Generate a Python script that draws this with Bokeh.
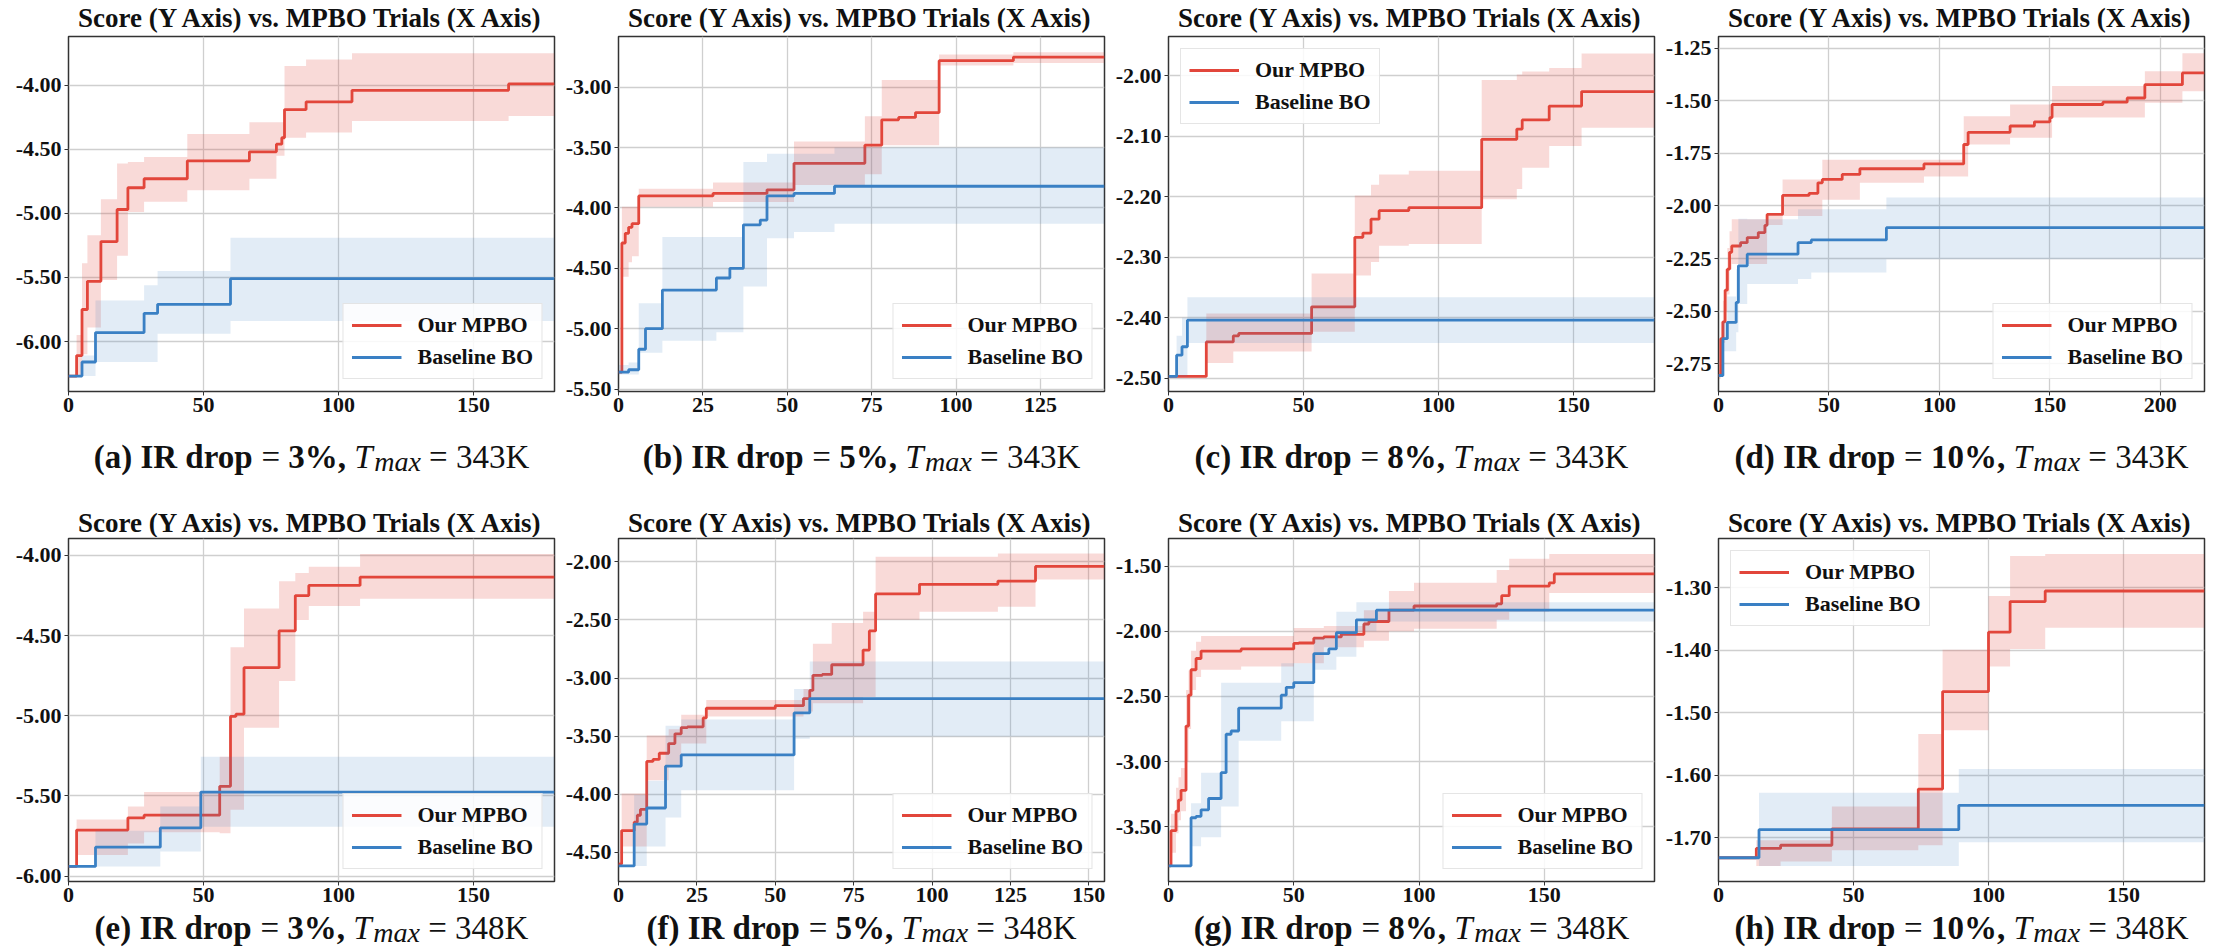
from bokeh.plotting import figure
from bokeh.models import Range1d, FixedTicker, NumeralTickFormatter, Legend, LegendItem
from bokeh.core.properties import value
from bokeh.layouts import column, row
from bokeh.embed import file_html
from bokeh.resources import INLINE

# ---------------- data ----------------
letters = ["a", "b", "c", "d", "e", "f", "g", "h"]
ir_drops = ["3%", "5%", "8%", "10%", "3%", "5%", "8%", "10%"]
t_max = ["343K", "343K", "343K", "343K", "348K", "348K", "348K", "348K"]
x_max = [180, 144, 180, 220, 180, 155, 194, 180]
y_lims = [(-6.39, -3.62), (-5.52, -2.58), (-2.522, -1.935), (-2.881, -1.195),
          (-6.034, -3.894), (-4.75, -1.80), (-3.92, -1.288), (-1.77, -1.221)]
y_ticks = [[-6.0, -5.5, -5.0, -4.5, -4.0],
           [-5.5, -5.0, -4.5, -4.0, -3.5, -3.0],
           [-2.5, -2.4, -2.3, -2.2, -2.1, -2.0],
           [-2.75, -2.5, -2.25, -2.0, -1.75, -1.5, -1.25],
           [-6.0, -5.5, -5.0, -4.5, -4.0],
           [-4.5, -4.0, -3.5, -3.0, -2.5, -2.0],
           [-3.5, -3.0, -2.5, -2.0, -1.5],
           [-1.7, -1.6, -1.5, -1.4, -1.3]]
x_ticks = [[0, 50, 100, 150], [0, 25, 50, 75, 100, 125], [0, 50, 100, 150],
           [0, 50, 100, 150, 200], [0, 50, 100, 150], [0, 25, 50, 75, 100, 125, 150],
           [0, 50, 100, 150], [0, 50, 100, 150]]
legend_loc = ["bottom_right", "bottom_right", "top_left", "bottom_right",
              "bottom_right", "bottom_right", "bottom_right", "top_left"]

# (a)
a_red_x = [0, 3, 5, 7, 12, 18, 22, 28, 44, 67, 77, 79, 80, 88, 105, 163, 180]
a_red = [-6.27, -6.11, -5.75, -5.53, -5.22, -4.97, -4.80, -4.73, -4.59, -4.52, -4.46, -4.41, -4.19, -4.13, -4.04, -3.99, -3.99]
a_red_lo = [-6.27, -6.27, -6.10, -5.89, -5.52, -5.33, -4.99, -4.91, -4.82, -4.73, -4.55, -4.55, -4.41, -4.37, -4.28, -4.24, -4.24]
a_red_hi = [-6.27, -5.95, -5.39, -5.17, -4.89, -4.61, -4.60, -4.56, -4.38, -4.29, -4.29, -4.29, -3.85, -3.80, -3.75, -3.75, -3.75]
a_blue_x = [0, 5, 10, 28, 33, 60, 180]
a_blue = [-6.27, -6.16, -5.93, -5.78, -5.71, -5.51, -5.51]
a_blue_lo = [-6.27, -6.27, -6.16, -6.16, -5.94, -5.84, -5.84]
a_blue_hi = [-6.27, -6.11, -5.68, -5.56, -5.45, -5.19, -5.19]

# (b)
b_red_x = [0, 1, 2, 3, 4, 6, 28, 44, 52, 73, 78, 83, 88, 95, 117, 144]
b_red = [-5.36, -4.29, -4.21, -4.16, -4.13, -3.90, -3.88, -3.85, -3.63, -3.48, -3.27, -3.25, -3.21, -2.78, -2.75, -2.75]
b_red_lo = [-5.36, -4.57, -4.57, -4.45, -4.40, -3.99, -3.95, -3.95, -3.81, -3.72, -3.48, -3.48, -3.48, -2.82, -2.80, -2.80]
b_red_hi = [-5.36, -3.99, -3.99, -3.99, -3.99, -3.84, -3.79, -3.79, -3.45, -3.24, -2.94, -2.94, -2.94, -2.73, -2.71, -2.71]
b_blue_x = [0, 3, 6, 8, 13, 29, 33, 37, 42, 44, 52, 64, 144]
b_blue = [-5.36, -5.34, -5.17, -5.00, -4.68, -4.58, -4.50, -4.14, -4.10, -3.90, -3.88, -3.82, -3.82]
b_blue_lo = [-5.38, -5.38, -5.20, -5.20, -5.10, -5.03, -5.03, -4.65, -4.65, -4.25, -4.20, -4.13, -4.13]
b_blue_hi = [-5.30, -5.28, -4.79, -4.79, -4.24, -4.24, -4.24, -3.62, -3.62, -3.55, -3.55, -3.50, -3.50]

# (c)
c_red_x = [0, 14, 24, 26, 53, 69, 72, 75, 78, 89, 116, 129, 131, 141, 153, 180]
c_red = [-2.497, -2.44, -2.43, -2.426, -2.382, -2.267, -2.26, -2.237, -2.223, -2.218, -2.105, -2.088, -2.073, -2.05, -2.026, -2.026]
c_red_lo = [-2.497, -2.475, -2.456, -2.456, -2.423, -2.33, -2.33, -2.308, -2.281, -2.278, -2.204, -2.187, -2.152, -2.116, -2.086, -2.086]
c_red_hi = [-2.497, -2.393, -2.393, -2.393, -2.327, -2.198, -2.198, -2.18, -2.163, -2.157, -2.007, -1.998, -1.993, -1.987, -1.963, -1.963]
c_blue_x = [0, 3, 5, 7, 180]
c_blue = [-2.497, -2.462, -2.448, -2.404, -2.404]
c_blue_lo = [-2.497, -2.497, -2.497, -2.442, -2.442]
c_blue_hi = [-2.497, -2.43, -2.40, -2.366, -2.366]

# (d)
d_red_x = [0, 1, 2, 3, 4, 5, 6, 10, 13, 18, 21, 22, 29, 41, 45, 47, 56, 64, 93, 111, 113, 132, 143, 150, 151, 174, 185, 193, 210, 220]
d_red = [-2.805, -2.63, -2.55, -2.40, -2.30, -2.22, -2.19, -2.174, -2.15, -2.126, -2.092, -2.04, -1.95, -1.94, -1.89, -1.874, -1.85, -1.823, -1.80, -1.708, -1.65, -1.62, -1.60, -1.58, -1.518, -1.507, -1.487, -1.424, -1.368, -1.368]
d_red_lo = [-2.82, -2.72, -2.65, -2.50, -2.42, -2.30, -2.276, -2.276, -2.276, -2.276, -2.276, -2.09, -2.047, -2.047, -2.047, -1.97, -1.97, -1.89, -1.86, -1.86, -1.708, -1.676, -1.676, -1.676, -1.58, -1.58, -1.58, -1.51, -1.455, -1.455]
d_red_hi = [-2.78, -2.55, -2.45, -2.30, -2.20, -2.12, -2.063, -2.063, -2.063, -2.063, -2.063, -2.047, -1.874, -1.874, -1.874, -1.78, -1.78, -1.78, -1.78, -1.574, -1.574, -1.518, -1.518, -1.518, -1.43, -1.43, -1.43, -1.36, -1.274, -1.274]
d_blue_x = [0, 2, 4, 8, 9, 13, 36, 42, 76, 220]
d_blue = [-2.805, -2.63, -2.553, -2.458, -2.284, -2.229, -2.174, -2.161, -2.103, -2.103]
d_blue_lo = [-2.805, -2.69, -2.69, -2.60, -2.465, -2.37, -2.347, -2.316, -2.253, -2.253]
d_blue_hi = [-2.805, -2.55, -2.43, -2.30, -2.06, -2.063, -2.016, -2.016, -1.96, -1.96]

# (e)
e_red_x = [0, 3, 22, 28, 56, 60, 62, 65, 78, 84, 89, 108, 180]
e_red = [-5.94, -5.713, -5.637, -5.62, -5.44, -5.004, -4.99, -4.70, -4.47, -4.25, -4.187, -4.135, -4.135]
e_red_lo = [-5.94, -5.868, -5.797, -5.727, -5.733, -5.586, -5.586, -5.074, -4.783, -4.402, -4.315, -4.27, -4.27]
e_red_hi = [-5.94, -5.647, -5.566, -5.476, -5.255, -4.572, -4.572, -4.331, -4.16, -4.11, -4.07, -3.99, -3.99]
e_blue_x = [0, 10, 34, 49, 180]
e_blue = [-5.94, -5.82, -5.70, -5.476, -5.476]
e_blue_lo = [-5.94, -5.94, -5.847, -5.693, -5.693]
e_blue_hi = [-5.94, -5.717, -5.566, -5.255, -5.255]

# (f)
f_red_x = [0, 1, 5, 6, 7, 9, 11, 13, 16, 18, 20, 22, 27, 28, 50, 59, 61, 62, 65, 68, 78, 80, 82, 96, 121, 133, 155]
f_red = [-4.60, -4.312, -4.24, -4.18, -4.13, -3.717, -3.70, -3.647, -3.564, -3.48, -3.426, -3.42, -3.343, -3.26, -3.238, -3.177, -3.107, -2.977, -2.969, -2.886, -2.76, -2.595, -2.277, -2.194, -2.166, -2.04, -2.04]
f_red_lo = [-4.62, -4.45, -4.45, -4.45, -4.45, -3.88, -3.88, -3.88, -3.758, -3.758, -3.564, -3.564, -3.564, -3.33, -3.33, -3.287, -3.287, -3.218, -3.218, -3.218, -3.163, -3.163, -2.498, -2.43, -2.388, -2.152, -2.152]
f_red_hi = [-4.58, -3.993, -3.993, -3.993, -3.993, -3.495, -3.495, -3.495, -3.44, -3.44, -3.315, -3.315, -3.315, -3.19, -3.19, -3.094, -3.094, -2.706, -2.706, -2.526, -2.43, -2.43, -1.958, -1.958, -1.93, -1.93, -1.93]
f_blue_x = [0, 5, 9, 15, 20, 56, 61, 155]
f_blue = [-4.616, -4.256, -4.118, -3.758, -3.661, -3.30, -3.177, -3.177]
f_blue_lo = [-4.616, -4.616, -4.45, -4.20, -3.966, -3.522, -3.503, -3.503]
f_blue_hi = [-4.616, -4.007, -3.883, -3.41, -3.357, -3.094, -2.858, -2.858]

# (g)
g_red_x = [0, 1, 3, 4, 5, 7, 8, 9, 11, 13, 29, 50, 52, 58, 62, 69, 78, 80, 88, 98, 131, 133, 136, 152, 154, 194]
g_red = [-3.80, -3.53, -3.38, -3.295, -3.22, -2.727, -2.49, -2.295, -2.209, -2.152, -2.135, -2.093, -2.09, -2.053, -2.043, -2.023, -1.944, -1.925, -1.838, -1.806, -1.789, -1.727, -1.653, -1.628, -1.56, -1.56]
g_red_lo = [-3.80, -3.70, -3.55, -3.45, -3.38, -3.0, -2.75, -2.45, -2.35, -2.295, -2.27, -2.246, -2.246, -2.246, -2.122, -2.122, -2.073, -2.073, -2.0, -1.98, -1.912, -1.912, -1.85, -1.707, -1.707, -1.707]
g_red_hi = [-3.80, -3.40, -3.20, -3.12, -3.05, -2.45, -2.30, -2.15, -2.08, -2.036, -2.036, -1.974, -1.974, -1.974, -1.96, -1.96, -1.838, -1.838, -1.69, -1.628, -1.53, -1.53, -1.443, -1.406, -1.406, -1.406]
g_blue_x = [0, 9, 11, 13, 16, 21, 23, 25, 28, 45, 47, 50, 58, 64, 67, 75, 83, 194]
g_blue = [-3.80, -3.431, -3.42, -3.37, -3.283, -3.085, -2.79, -2.765, -2.59, -2.49, -2.43, -2.394, -2.172, -2.135, -2.011, -1.912, -1.838, -1.838]
g_blue_lo = [-3.80, -3.65, -3.65, -3.58, -3.58, -3.345, -3.345, -3.345, -2.84, -2.69, -2.69, -2.69, -2.295, -2.295, -2.196, -2.0, -1.925, -1.925]
g_blue_hi = [-3.80, -3.32, -3.32, -3.085, -3.085, -2.394, -2.394, -2.394, -2.394, -2.246, -2.246, -2.246, -2.048, -2.048, -1.85, -1.777, -1.777, -1.777]

# (h)
h_red_x = [0, 14, 23, 42, 74, 83, 100, 108, 121, 180]
h_red = [-1.732, -1.717, -1.712, -1.686, -1.622, -1.466, -1.371, -1.322, -1.305, -1.305]
h_red_lo = [-1.732, -1.745, -1.738, -1.72, -1.712, -1.528, -1.426, -1.398, -1.364, -1.364]
h_red_hi = [-1.732, -1.704, -1.704, -1.65, -1.534, -1.399, -1.313, -1.249, -1.246, -1.246]
h_blue_x = [0, 15, 89, 180]
h_blue = [-1.732, -1.687, -1.648, -1.648]
h_blue_lo = [-1.732, -1.745, -1.707, -1.707]
h_blue_hi = [-1.732, -1.628, -1.59, -1.59]

series = [
    (a_red_x, a_red, a_red_lo, a_red_hi, a_blue_x, a_blue, a_blue_lo, a_blue_hi),
    (b_red_x, b_red, b_red_lo, b_red_hi, b_blue_x, b_blue, b_blue_lo, b_blue_hi),
    (c_red_x, c_red, c_red_lo, c_red_hi, c_blue_x, c_blue, c_blue_lo, c_blue_hi),
    (d_red_x, d_red, d_red_lo, d_red_hi, d_blue_x, d_blue, d_blue_lo, d_blue_hi),
    (e_red_x, e_red, e_red_lo, e_red_hi, e_blue_x, e_blue, e_blue_lo, e_blue_hi),
    (f_red_x, f_red, f_red_lo, f_red_hi, f_blue_x, f_blue, f_blue_lo, f_blue_hi),
    (g_red_x, g_red, g_red_lo, g_red_hi, g_blue_x, g_blue, g_blue_lo, g_blue_hi),
    (h_red_x, h_red, h_red_lo, h_red_hi, h_blue_x, h_blue, h_blue_lo, h_blue_hi),
]

# ---------------- style ----------------
SERIF = "Liberation Serif"
RED = "#e2463b"
BLUE = "#3a80c4"
TXT = "#111111"
TITLE = "Score (Y Axis) vs. MPBO Trials (X Axis)"

W_REG = {' ': 250, '=': 564, 'K': 722, '%': 833, ',': 250}
W_BOLD = {' ': 250, '(': 333, ')': 333, 'a': 500, 'b': 556, 'c': 444, 'd': 556, 'e': 444,
          'f': 333, 'g': 500, 'h': 556, 'I': 389, 'R': 722, 'r': 444, 'o': 500, 'p': 556,
          '%': 1000, ',': 250, '=': 570}
W_ITAL = {'T': 556, 'm': 722, 'a': 500, 'x': 444}


def tw(s, table, size):
    return sum(table.get(ch, 500) for ch in s) * size / 1000.0


COL_W = [558, 550, 550, 550]
COL_L = [68, 60, 60, 60]
BORDER_R = 4
FRAME_W = 486
HEAD = 27
CAP = 33
SUB_RATIO = 0.85
SUB_DROP = 3.5
MID = 0.3375  # (ascent - descent) / 2 in em, for middle-anchored text

# vertical layout (pixels): strip0 | panels row1 | strip1 | panels row2 | strip2
S0_H = 35
P1 = dict(h=390, top=1, bot=34)
S1_H = 112
P2 = dict(h=371, top=1, bot=27)
S2_H = 40


def strip(k, h):
    s = figure(width=COL_W[k], height=h, output_backend="svg", toolbar_location=None,
               title_location=None, x_axis_type=None, y_axis_type=None,
               x_range=Range1d(0, COL_W[k]), y_range=Range1d(0, h),
               min_border=0, min_border_left=0, min_border_right=0,
               min_border_top=0, min_border_bottom=0)
    s.outline_line_color = None
    s.grid.visible = False
    s.background_fill_color = "white"
    s.border_fill_color = "white"
    return s


def add_header(s, k, yc):
    s.text(x=[COL_L[k] + FRAME_W / 2.0], y=[yc], text=[TITLE], text_font=value(SERIF),
           text_font_style=value("bold"), text_font_size=value("%dpx" % HEAD),
           text_color=TXT, text_align=value("center"), text_baseline=value("middle"))


def add_caption(s, k, i, yc):
    sub = CAP * SUB_RATIO
    sub_y = yc - MID * CAP - SUB_DROP + MID * sub
    segs = [("(%s) IR drop" % letters[i], "bold", CAP, yc, W_BOLD),
            (" = ", "normal", CAP, yc, W_REG),
            ("%s, " % ir_drops[i], "bold", CAP, yc, W_BOLD),
            ("T", "italic", CAP, yc, W_ITAL),
            ("max", "italic", sub, sub_y, W_ITAL),
            (" = %s" % t_max[i], "normal", CAP, yc, W_REG)]
    widths = [tw(t, tb, sz) for t, _, sz, _, tb in segs]
    widths[3] += 1.5
    x0 = COL_L[k] + FRAME_W / 2.0 - sum(widths) / 2.0
    for (t, style, sz, yy, tb), w in zip(segs, widths):
        lead = len(t) - len(t.lstrip(" "))
        s.text(x=[x0 + tw(" " * lead, tb, sz)], y=[yy], text=[t.strip(" ")],
               text_font=value(SERIF), text_font_style=value(style),
               text_font_size=value("%.1fpx" % sz),
               text_color=TXT, text_align=value("left"), text_baseline=value("middle"))
        x0 += w


def make_panel(i, k, cfg):
    rx, ry, rlo, rhi, bx, by, blo, bhi = series[i]
    p = figure(width=COL_W[k], height=cfg["h"], output_backend="svg", toolbar_location=None,
               title_location=None,
               x_range=Range1d(0, x_max[i]), y_range=Range1d(*y_lims[i]),
               min_border_left=COL_L[k], min_border_right=BORDER_R,
               min_border_top=cfg["top"], min_border_bottom=cfg["bot"])
    p.background_fill_color = "white"
    p.border_fill_color = "white"
    p.outline_line_color = "#333333"
    p.outline_line_width = 1.5

    p.varea_step(x=rx, y1=rlo, y2=rhi, step_mode="after", fill_color=RED, fill_alpha=0.2)
    lr = p.step(rx, ry, mode="after", line_color=RED, line_width=2.8)
    p.varea_step(x=bx, y1=blo, y2=bhi, step_mode="after", fill_color=BLUE, fill_alpha=0.15)
    lb = p.step(bx, by, mode="after", line_color=BLUE, line_width=2.8)

    p.xaxis.ticker = FixedTicker(ticks=x_ticks[i])
    p.yaxis.ticker = FixedTicker(ticks=y_ticks[i])
    p.yaxis.formatter = NumeralTickFormatter(format="0.00")
    for ax in (p.xaxis, p.yaxis):
        ax.axis_line_color = None
        ax.major_tick_out = 4
        ax.major_tick_in = 0
        ax.major_tick_line_color = "#333333"
        ax.minor_tick_line_color = None
        ax.major_label_text_font = SERIF
        ax.major_label_text_font_style = "bold"
        ax.major_label_text_font_size = "22px"
        ax.major_label_text_color = TXT
        ax.major_label_standoff = 3
    p.xaxis.major_label_standoff = 2
    p.xgrid.grid_line_color = "#cfcfcf"
    p.ygrid.grid_line_color = "#cfcfcf"
    p.xgrid.grid_line_width = 1.3
    p.ygrid.grid_line_width = 1.3

    leg = Legend(items=[LegendItem(label="Our MPBO", renderers=[lr]),
                        LegendItem(label="Baseline BO", renderers=[lb])],
                 location=legend_loc[i],
                 label_text_font=SERIF, label_text_font_style="bold",
                 label_text_font_size="22px", label_text_color=TXT,
                 glyph_width=50, glyph_height=24, label_height=24, label_standoff=16,
                 padding=8, spacing=6, margin=12,
                 border_line_color="#cccccc", border_line_width=1,
                 background_fill_color="white", background_fill_alpha=0.85)
    p.add_layout(leg)
    return p


strip0 = [strip(k, S0_H) for k in range(4)]
strip1 = [strip(k, S1_H) for k in range(4)]
strip2 = [strip(k, S2_H) for k in range(4)]
for k in range(4):
    add_header(strip0[k], k, S0_H - 17.5)          # centre ~17 px from page top
    add_caption(strip1[k], k, k, S1_H - 31)        # centre ~456 px
    add_header(strip1[k], k, 15)                   # centre ~522 px
    add_caption(strip2[k], k, k + 4, S2_H - 19)    # centre ~927 px

top_panels = [make_panel(k, k, P1) for k in range(4)]
bottom_panels = [make_panel(k + 4, k, P2) for k in range(4)]

layout = column(row(*strip0), row(*top_panels), row(*strip1),
                row(*bottom_panels), row(*strip2))
open("out.html", "w").write(file_html(layout, INLINE))
